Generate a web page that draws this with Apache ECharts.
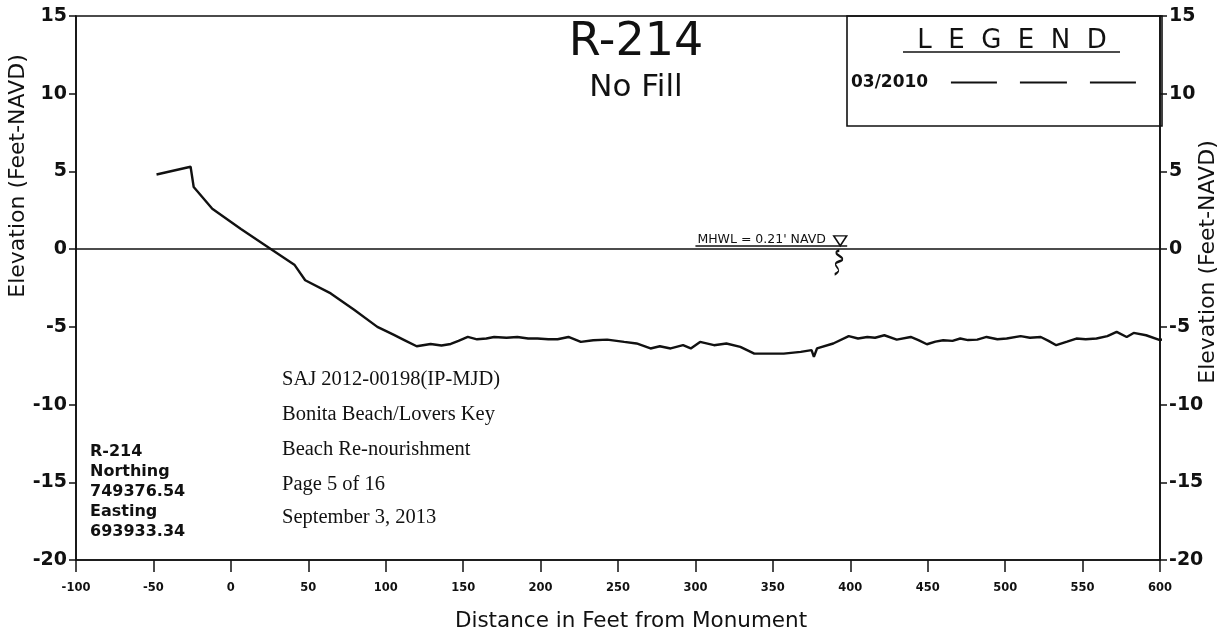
<!DOCTYPE html>
<html><head><meta charset="utf-8">
<script src="https://cdn.jsdelivr.net/npm/echarts@6/dist/echarts.min.js"></script>
<style>html,body{margin:0;padding:0;background:#fff}#c{width:1225px;height:637px}</style>
</head><body><div id="c"></div>
<script>
// ---- data ----
const distance = [-48, -26, -24, -12, 6.5, 26, 41, 48, 64.5, 79.6, 94.6, 105, 112, 120, 129, 136, 142, 147, 153, 159, 165, 170, 178, 185, 192, 198, 205, 211, 218, 226, 234, 243, 254, 262, 271, 277, 284, 292, 297, 303, 312, 320, 329, 338, 348, 357, 368, 375, 376.5, 378.5, 389, 399, 405, 411, 416, 422, 430, 439, 444, 449.5, 455, 460, 466, 471, 476, 482, 488, 495, 501, 510, 516, 523, 528, 533, 540, 546, 552, 559, 566, 572, 578.5, 583, 591, 600, 606.5, 613, 617, 628, 643];
const elevation = [4.8, 5.3, 4.0, 2.6, 1.3, 0.0, -1.0, -2.0, -2.85, -3.9, -5.0, -5.5, -5.85, -6.25, -6.1, -6.2, -6.1, -5.9, -5.65, -5.8, -5.75, -5.65, -5.7, -5.65, -5.75, -5.75, -5.8, -5.8, -5.65, -5.97, -5.86, -5.82, -5.97, -6.07, -6.39, -6.25, -6.39, -6.18, -6.39, -5.97, -6.18, -6.07, -6.29, -6.72, -6.72, -6.72, -6.61, -6.5, -6.93, -6.39, -6.07, -5.6, -5.75, -5.65, -5.7, -5.54, -5.82, -5.65, -5.85, -6.12, -5.95, -5.86, -5.9, -5.75, -5.85, -5.82, -5.65, -5.8, -5.75, -5.6, -5.7, -5.65, -5.9, -6.18, -5.95, -5.75, -5.8, -5.75, -5.6, -5.32, -5.65, -5.39, -5.54, -5.86, -5.65, -6.29, -5.75, -5.82, -5.65];
const seriesName = '03/2010';
const xRange = [-100, 600, 50];
const yRange = [-20, 15, 5];
const mhwl = 0.21;
const mhwlLabel = "MHWL = 0.21' NAVD";
const mhwlSpan = [300, 398];
const mhwlMarkX = 393.5;
const titleMain = 'R-214';
const titleSub = 'No Fill';
const legendHeader = 'L  E  G  E  N  D';
const xTitle = 'Distance in Feet from Monument';
const yTitle = 'Elevation (Feet-NAVD)';
const permitLines = ['SAJ 2012-00198(IP-MJD)', 'Bonita Beach/Lovers Key', 'Beach Re-nourishment', 'Page 5 of 16', 'September 3, 2013'];
const monumentLines = ['R-214', 'Northing', '749376.54', 'Easting', '693933.34'];

// ---- chart ----
const ink = '#111';
const sans = 'DejaVu Sans';
const serif = 'Liberation Serif';
const chart = echarts.init(document.getElementById('c'));
const profile = distance.map((d, i) => [d, elevation[i]]);

const yAxisBase = (pos) => ({
  type: 'value', position: pos, min: yRange[0], max: yRange[1], interval: yRange[2],
  axisLine: { show: true, onZero: false, lineStyle: { color: ink, width: 1.6 } },
  axisTick: { show: true, length: 7, lineStyle: { color: ink, width: 1.5 } },
  axisLabel: { margin: 9, fontFamily: sans, fontSize: 19, fontWeight: 'bold', color: ink },
  splitLine: { show: false }
});

const graphics = [
  { type: 'rect', shape: { x: 847, y: 16, width: 315, height: 110 }, style: { fill: 'none', stroke: ink, lineWidth: 1.6 }, z: 10 },
  { type: 'line', shape: { x1: 903, y1: 52, x2: 1120, y2: 52 }, style: { stroke: ink, lineWidth: 1.5 }, z: 10 },
  { type: 'text', x: 18, y: 176, rotation: Math.PI / 2, style: { text: yTitle, fill: ink, fontFamily: sans, fontSize: 22, align: 'center', verticalAlign: 'middle' } },
  { type: 'text', x: 1208, y: 262, rotation: Math.PI / 2, style: { text: yTitle, fill: ink, fontFamily: sans, fontSize: 22, align: 'center', verticalAlign: 'middle' } }
];
const permitY = [380, 415, 450, 485, 518];
permitLines.forEach((t, i) => graphics.push({ type: 'text', x: 282, y: permitY[i], style: { text: t, fill: ink, fontFamily: serif, fontSize: 20.5, align: 'left', verticalAlign: 'middle' } }));
const monY = [452, 472, 492, 512, 532];
monumentLines.forEach((t, i) => graphics.push({ type: 'text', x: 90, y: monY[i], style: { text: t, fill: ink, fontFamily: sans, fontSize: 16, fontWeight: 'bold', align: 'left', verticalAlign: 'middle' } }));

chart.setOption({
  animation: false,
  backgroundColor: '#fff',
  title: [
    { text: titleMain, left: 636, top: 20, textAlign: 'center', padding: 0, textStyle: { fontFamily: sans, fontSize: 46, fontWeight: 'normal', color: ink } },
    { text: titleSub, left: 636, top: 72, textAlign: 'center', padding: 0, textStyle: { fontFamily: sans, fontSize: 31, fontWeight: 'normal', color: ink } },
    { text: legendHeader, left: 1012, top: 28, textAlign: 'center', padding: 0, textStyle: { fontFamily: sans, fontSize: 26, fontWeight: 'normal', color: ink } }
  ],
  legend: {
    data: [seriesName], left: 851, top: 74, align: 'right', padding: 0,
    itemWidth: 185, itemHeight: 3,
    icon: 'path://M0,0h46v2h-46z M69,0h47v2h-47z M139,0h46v2h-46z',
    itemStyle: { color: ink, borderWidth: 0 },
    textStyle: { fontFamily: sans, fontSize: 17, fontWeight: 'bold', color: ink },
    formatter: (n) => n + '   '
  },
  grid: { left: 76, right: 65, top: 16, bottom: 77, show: true, borderColor: ink, borderWidth: 1.6, backgroundColor: 'transparent' },
  xAxis: {
    type: 'value', min: xRange[0], max: xRange[1], interval: xRange[2],
    axisLine: { show: true, onZero: false, lineStyle: { color: ink, width: 1.6 } },
    axisTick: { show: true, length: 12, lineStyle: { color: ink, width: 1.5 } },
    axisLabel: { margin: 22, fontFamily: sans, fontSize: 11.5, fontWeight: 'bold', color: ink, showMinLabel: true, showMaxLabel: true },
    splitLine: { show: false },
    name: xTitle, nameLocation: 'middle', nameGap: 50,
    nameTextStyle: { fontFamily: sans, fontSize: 21.5, color: ink, padding: [0, 0, 0, 26] }
  },
  yAxis: [yAxisBase('left'), yAxisBase('right')],
  series: [{
    name: seriesName, type: 'line', data: profile, symbol: 'none', clip: false,
    lineStyle: { color: ink, width: 2.4 },
    markLine: {
      silent: true, symbol: ['none', 'none'], precision: 2,
      lineStyle: { color: ink, width: 1.5, type: 'solid' },
      label: { show: false },
      data: [
        { yAxis: 0 },
        [
          { coord: [mhwlSpan[0], mhwl], label: { show: true, formatter: mhwlLabel, position: 'insideStartTop', distance: [2, 0], fontFamily: sans, fontSize: 12.5, color: ink } },
          { coord: [mhwlSpan[1], mhwl] }
        ]
      ]
    },
    markPoint: {
      silent: true, label: { show: false },
      data: [
        { coord: [mhwlMarkX, mhwl], symbol: 'path://M0,0L14,0L7,11Z', symbolSize: [13, 10], symbolOffset: [0, -5], itemStyle: { color: '#fff', borderColor: ink, borderWidth: 1.5 } },
        { coord: [392.5, -0.85], symbol: 'path://M5,0C0,4 10,8 5,12C0,16 8,20 3,26', symbolSize: [8, 24], itemStyle: { color: 'none', borderColor: ink, borderWidth: 1.6 } }
      ]
    }
  }],
  graphic: graphics
});
</script>
</body></html>
